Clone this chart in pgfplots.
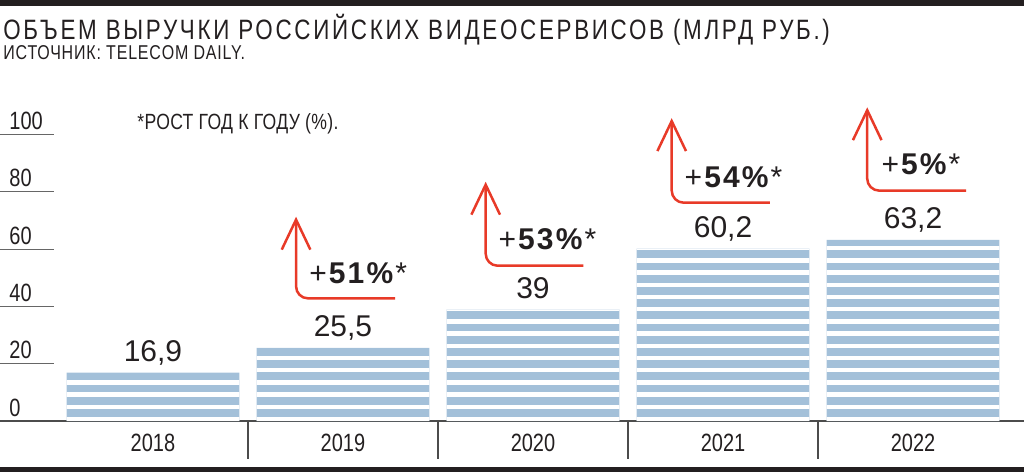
\documentclass[border=0pt]{standalone}
\usepackage{fontspec}
\setmainfont{Liberation Sans}
\newfontfamily\condfont[FakeStretch=0.80]{Liberation Sans}
\newfontfamily\titlefont[FakeStretch=0.80, LetterSpace=9.6]{Liberation Sans}
\newfontfamily\subfont[FakeStretch=0.80, LetterSpace=4]{Liberation Sans}
\newfontfamily\notefont[FakeStretch=0.80, LetterSpace=1.5]{Liberation Sans}
\newfontfamily\pctfont[LetterSpace=7]{Liberation Sans}
\usepackage{pgfplots}
\pgfplotsset{compat=1.18}
\usetikzlibrary{arrows.meta}

\definecolor{barblue}{RGB}{163,192,217}
\definecolor{arrred}{RGB}{232,58,40}
\definecolor{txt}{RGB}{35,31,32}

\begin{document}
\begin{tikzpicture}[font=\condfont, text=txt]
\begin{axis}[
  scale only axis, width=512pt, height=143.25pt,
  xmin=-0.805, xmax=4.584, ymin=0, ymax=100,
  axis lines=left, axis line style={-},
  x axis line style={black!70, line width=0.6pt},
  y axis line style={draw=none},
  xtick={0,...,4}, xticklabels={2018,2019,2020,2021,2022},
  xtick style={draw=none},
  xticklabel style={font=\condfont\fontsize{12.5}{14}\selectfont, anchor=base, inner sep=0pt, yshift=-15.35pt},
  ytick={0,20,...,100}, yticklabels={0,20,40,60,80,100},
  tick align=inside, major tick length=27pt,
  ytick style={black!60, line width=0.5pt},
  yticklabel style={font=\condfont\fontsize{12.5}{14}\selectfont, anchor=base west, inner sep=0pt, xshift=4.5pt, yshift=2.5pt},
  clip=false,
]
\addplot[ybar, bar width=86.3pt, draw=none, fill=barblue,
  nodes near coords, point meta=explicit symbolic,
  nodes near coords style={font=\normalfont\fontsize{15}{18}\selectfont, anchor=base, inner sep=0pt, yshift=5.5pt, text=txt}]
  coordinates {(0,16.9) [16,9] (1,25.5) [25,5] (2,39) [39] (3,60.2) [60,2] (4,63.2) [63,2]};

% white gaps that cut the bars into stripes
\begin{scope}
\clip (axis cs:-0.4542,0) rectangle (axis cs:0.4542,16.9)
      (axis cs:0.5458,0) rectangle (axis cs:1.4542,25.5)
      (axis cs:1.5458,0) rectangle (axis cs:2.4542,39)
      (axis cs:2.5458,0) rectangle (axis cs:3.4542,60.2)
      (axis cs:3.5458,0) rectangle (axis cs:4.4542,63.2);
\pgfplotsinvokeforeach{0,...,15}{
  \draw[white, line width=2.25pt] (axis cs:-0.6,{4.2583*#1+0.7155}) -- (axis cs:4.6,{4.2583*#1+0.7155});
}
\end{scope}

% separators under the axis
\draw[black!70, line width=0.6pt] (axis cs:0.5,0) -- (axis cs:0.5,-13.26);
\draw[black!70, line width=0.6pt] (axis cs:1.5,0) -- (axis cs:1.5,-13.26);
\draw[black!70, line width=0.6pt] (axis cs:2.5,0) -- (axis cs:2.5,-13.26);
\draw[black!70, line width=0.6pt] (axis cs:3.5,0) -- (axis cs:3.5,-13.26);

% growth arrows
\draw[arrred, line width=1.25pt, rounded corners=6pt, -{Straight Barb[length=15pt,width=14.3pt]}] (axis cs:1.274,42.8) -- (axis cs:0.753,42.8) -- (axis cs:0.753,71.3);
\draw[arrred, line width=1.25pt, rounded corners=6pt, -{Straight Barb[length=15pt,width=14.3pt]}] (axis cs:2.265,54.2) -- (axis cs:1.751,54.2) -- (axis cs:1.751,83.5);
\draw[arrred, line width=1.25pt, rounded corners=6pt, -{Straight Barb[length=15pt,width=14.3pt]}] (axis cs:3.247,76.2) -- (axis cs:2.730,76.2) -- (axis cs:2.730,105.7);
\draw[arrred, line width=1.25pt, rounded corners=6pt, -{Straight Barb[length=15pt,width=14.3pt]}] (axis cs:4.279,80.4) -- (axis cs:3.759,80.4) -- (axis cs:3.759,109.5);

\node[anchor=base west, inner sep=0pt, font=\pctfont\fontsize{15}{18}\selectfont] at (axis cs:0.821,48.1) {+\textbf{51\%}*};
\node[anchor=base west, inner sep=0pt, font=\pctfont\fontsize{15}{18}\selectfont] at (axis cs:1.817,60.0) {+\textbf{53\%}*};
\node[anchor=base west, inner sep=0pt, font=\pctfont\fontsize{15}{18}\selectfont] at (axis cs:2.796,81.6) {+\textbf{54\%}*};
\node[anchor=base west, inner sep=0pt, font=\pctfont\fontsize{15}{18}\selectfont] at (axis cs:3.832,85.9) {+\textbf{5\%}*};

\node[anchor=base west, inner sep=0pt, font=\notefont\fontsize{11}{13}\selectfont] at (axis cs:-0.084,101.6) {*РОСТ ГОД К ГОДУ (\%).};
\end{axis}

\fill[txt] (0,207.5pt) rectangle (512pt,210.5pt);
\fill[txt] (0,-23.2pt) rectangle (512pt,-25.3pt);
\node[anchor=base west, inner sep=0pt, font=\titlefont\fontsize{14}{16}\selectfont] at (1.5pt,190.5pt) {ОБЪЕМ ВЫРУЧКИ РОССИЙСКИХ ВИДЕОСЕРВИСОВ (МЛРД РУБ.)};
\node[anchor=base west, inner sep=0pt, font=\subfont\fontsize{10}{12}\selectfont] at (1.5pt,180.5pt) {ИСТОЧНИК: TELECOM DAILY.};

\pgfresetboundingbox
\useasboundingbox (0,-25.5pt) rectangle (512pt,210.5pt);
\end{tikzpicture}
\end{document}
